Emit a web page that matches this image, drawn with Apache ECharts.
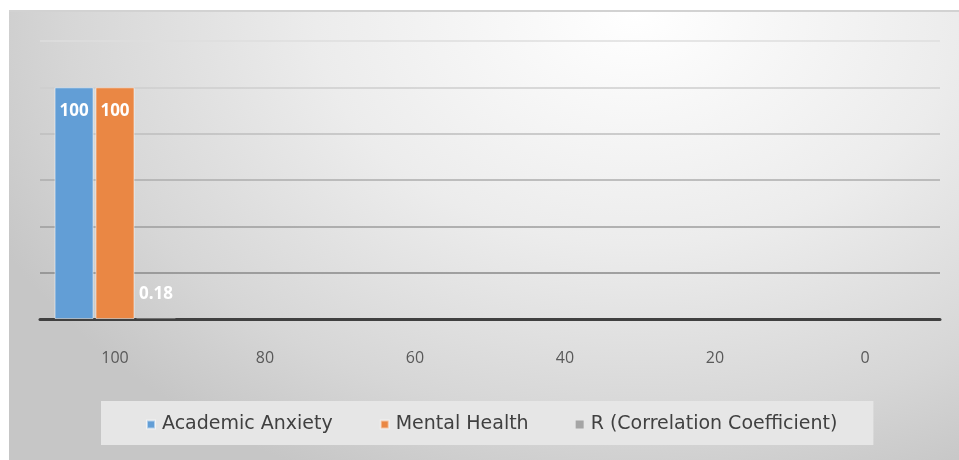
<!DOCTYPE html>
<html>
<head>
<meta charset="utf-8">
<script src="https://cdn.jsdelivr.net/npm/echarts@6/dist/echarts.min.js"></script>
<style>
  html, body { margin: 0; padding: 0; background: #fff; }
  #wrap { position: relative; width: 959px; height: 460px; overflow: hidden; }
  #bg {
    position: absolute; left: 9px; top: 10px; width: 950px; height: 450px;
    border-top: 2px solid #d2d2d2; box-sizing: border-box;
    background: radial-gradient(ellipse 75% 115% at 66% 0%, #ffffff 0%, #ececec 45%, #d6d6d6 80%, #c6c6c6 100%);
  }
  #tiao { position: absolute; left: 0; top: 0; width: 959px; height: 460px; }
</style>
</head>
<body>
<div id="wrap">
  <div id="bg"></div>
  <div id="tiao"></div>
</div>
<script>
var categories = ['100', '80', '60', '40', '20', '0'];
var anxiety = [100, null, null, null, null, null];
var mentalHealth = [100, null, null, null, null, null];
var rCoef = [0.18, null, null, null, null, null];

var zhu1 = echarts.init(document.getElementById('tiao'), null, {renderer: 'canvas'});
var font = '"Open Sans", "Noto Sans", sans-serif';
var legendFont = '"DejaVu Sans", "Open Sans", sans-serif';

function barLabel(pos) {
    return {
        show: true,
        position: pos,
        distance: pos === 'top' ? 16 : 15,
        color: '#ffffff',
        fontSize: 17,
        fontWeight: 'bold',
        fontFamily: font
    };
}

option = {
    backgroundColor: 'transparent',
    animation: false,
    grid: {
        left: 40,
        right: 19,
        top: 41,
        bottom: 141,
        containLabel: false
    },
    legend: {
        data: ['Academic Anxiety', 'Mental Health', 'R (Correlation Coefficient)'],
        left: 101,
        top: 401,
        backgroundColor: '#e6e6e6',
        padding: [14, 36, 11, 45],
        itemWidth: 8,
        itemHeight: 8,
        itemGap: 47,
        icon: 'rect',
        textStyle: {
            color: '#404040',
            fontSize: 19,
            fontFamily: legendFont,
            padding: [0, 0, 0, 2]
        }
    },
    xAxis: [
        {
            type: 'category',
            data: categories,
            axisLine: { lineStyle: { color: '#404040', width: 3 } },
            axisTick: { show: false },
            axisLabel: {
                color: '#595959',
                fontSize: 16,
                fontFamily: font,
                margin: 31
            }
        }
    ],
    yAxis: [
        {
            type: 'value',
            min: 0,
            max: 120,
            interval: 20,
            axisLabel: { show: false },
            axisLine: { show: false },
            axisTick: { show: false },
            splitLine: {
                lineStyle: {
                    color: ['#8c8c8c', '#888888', '#9c9c9c', '#acacac', '#bebebe', '#cecece', '#dedede'],
                    width: 1.5
                }
            }
        }
    ],
    series: [
        {
            name: 'Academic Anxiety',
            type: 'bar',
            data: anxiety,
            barWidth: 39,
            barGap: '5%',
            itemStyle: { color: '#629ed6', borderColor: 'rgba(255,255,255,0.5)', borderWidth: 1 },
            label: barLabel('insideTop')
        },
        {
            name: 'Mental Health',
            type: 'bar',
            data: mentalHealth,
            barWidth: 39,
            itemStyle: { color: '#ea8744', borderColor: 'rgba(255,255,255,0.5)', borderWidth: 1 },
            label: barLabel('insideTop')
        },
        {
            name: 'R (Correlation Coefficient)',
            type: 'bar',
            data: rCoef,
            barWidth: 39,
            itemStyle: { color: '#a5a5a5' },
            label: barLabel('top')
        }
    ]
};
zhu1.setOption(option);
</script>
</body>
</html>
